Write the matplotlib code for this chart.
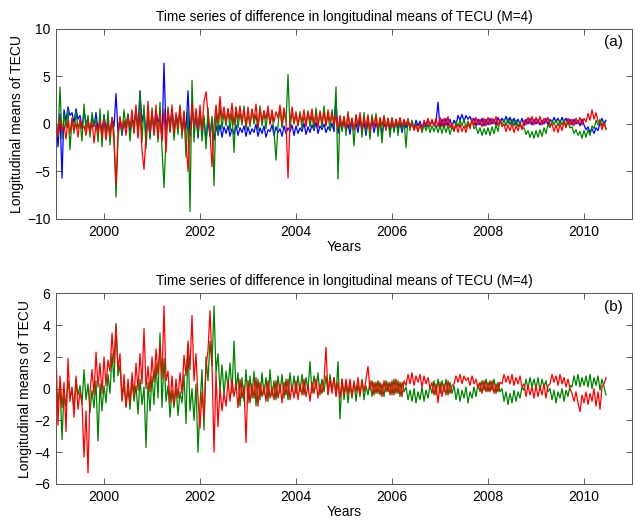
import numpy as np
import matplotlib
matplotlib.use("Agg")
import matplotlib.pyplot as plt

# half-monthly samples starting Jan 1999 (24 per year)
start_year = 1999.0
steps_per_year = 24

# panel (a): blue, green, red difference series
a_blue = [
    0.6, -2.4, 1.1, -5.7, 1.5, 0.3, 1.8, 0.9, 1.2, 0.1, 1.6, 0.5, 0.9, -0.4, 1.3, 0.2, 0.4, -0.9, 0.8, -0.3, 1.2, -0.6, 0.3, -0.8,
    0.9, -0.5, 0.2, -1.1, 0.7, -0.3, 3.2, -0.9, 0.5, -1.2, 0.3, -0.4, 1.0, -0.8, 0.6, 0.0, 1.5, -0.6, 3.5, 0.2, 1.3, -1.2, 0.8, -1.4,
    1.1, -0.6, 1.4, 0.2, 0.7, -1.6, 6.4, -0.9, 1.2, -0.2, 1.5, -0.7, 0.9, 0.1, 1.3, -1.1, 0.6, -0.5, 3.5, -1.3, 1.6, -0.4, 1.0, -1.5,
    1.2, -0.8, 0.6, -1.9, 0.4, -1.3, 0.5, -1.7, -0.2, -1.2, -0.1, -1.4, -0.3, -1.0, -0.2, -1.3, -0.5, -1.1, -0.1, -1.2, -0.4, -0.9, -0.2, -1.3,
    -0.3, -1.1, -0.5, -0.9, 0.0, -1.3, -0.4, -1.0, -0.2, -1.4, -0.6, -0.8, -0.1, -1.2, -0.3, -0.9, -0.5, -1.3, -0.2, -1.0, -0.4, -0.8, -0.1, -1.2,
    -0.2, -1.0, -0.4, -0.8, 0.1, -1.1, -0.3, -0.9, -0.1, -0.7, 0.2, -1.0, -0.2, -0.6, 0.0, -0.9, -0.3, -0.7, 0.1, -0.8, 2.5, -1.0, 0.2, -0.6,
    0.3, -0.7, 0.0, -1.1, 0.4, -0.5, 0.1, -0.9, 0.5, -0.6, 0.2, -1.2, 0.3, -0.4, 0.4, -0.9, 0.1, -0.6, 0.3, -1.0, 0.0, -0.5, 0.4, -0.8,
    0.2, -0.7, 0.3, -0.5, 0.1, -0.9, 0.2, -0.4, 0.4, -0.3, 0.2, -0.5, 0.4, -0.2, 0.3, -0.4, 0.2, -0.3, 0.4, -0.1, 0.3, -0.2, 0.2, 2.3,
    -0.4, 0.5, -0.3, 0.6, -0.2, 0.5, -0.3, 0.4, -0.1, 0.9, 0.4, 1.0, 0.3, 0.9, 0.5, 0.8, 0.2, 0.6, -0.2, 0.5, -0.1, 0.6, -0.2, 0.5,
    -0.1, 0.6, 0.0, 0.5, -0.1, 0.7, 0.1, 0.6, 0.2, 0.8, 0.1, 0.7, 0.0, 0.6, -0.1, 0.5, 0.0, 0.6, -0.2, 0.5, 0.0, 0.6, -0.1, 0.5,
    0.0, 0.5, -0.1, 0.4, 0.0, 0.6, -0.1, 0.5, 0.1, 0.7, 0.2, 0.6, 0.1, 0.7, 0.2, 0.6, 0.0, 0.5, -0.1, 0.5, 0.0, 0.4, -0.2, 0.5,
    -0.1, -0.6, -0.3, -0.9, -0.5, -1.0, -0.4, -0.7, 0.1, 0.6, -0.1, 0.4,
]
a_green = [
    0.2, -1.3, 3.9, -1.6, 1.1, -0.4, 1.5, -2.7, 0.6, -1.0, 1.3, -0.5, 0.3, -1.8, 2.1, -0.7, 0.9, -1.4, 1.2, -0.2, 0.5, -1.9, 1.6, -2.4,
    1.0, -1.5, 1.4, -2.2, 0.6, -0.8, -7.7, -1.7, 0.8, -1.1, 1.5, -0.4, 1.1, -1.8, 0.7, -0.9, 1.7, -1.3, 3.4, -1.9, 2.0, -2.6, 1.2, -1.6,
    1.7, -1.2, 1.0, -1.9, 2.3, -2.6, -6.7, -1.4, 1.8, -0.9, 1.3, -1.7, 0.9, -1.1, 2.0, -1.5, 1.2, -3.5, 1.6, -9.2, 4.6, -1.9, 1.5, -1.3,
    1.4, -1.8, 0.9, -2.6, 1.7, -1.3, 0.8, -6.5, 1.5, -1.1, 1.9, -0.5, 1.2, -0.2, 1.6, -0.7, 1.3, -3.0, 1.8, -0.4, 1.2, -0.1, 1.9, -0.6,
    1.2, -0.3, 1.6, 0.0, 1.0, -0.7, 1.9, -0.2, 1.3, -0.5, 1.5, 0.1, 1.1, -0.8, -3.8, -0.1, 1.7, -0.4, 1.2, 0.2, 5.2, -0.6, 1.4, 0.0,
    1.0, -0.2, 1.3, -0.5, 0.8, 0.1, 1.4, -0.3, 1.0, -0.6, 1.7, -0.1, 1.2, -0.4, 1.9, -0.2, 1.1, -0.7, 1.5, -0.3, 3.9, -5.8, 0.9, -0.8,
    0.8, -1.2, 1.3, -0.6, 0.6, -2.3, 1.0, -0.4, 0.9, -1.4, 1.2, -0.9, 0.7, -1.6, 1.0, -0.3, 1.1, -1.3, 0.5, -2.0, 0.9, -0.7, 0.6, -1.4,
    0.7, -0.9, 0.5, -1.2, 0.6, -0.6, 0.4, -2.5, 0.6, -0.7, 0.4, -0.5, 0.1, -0.8, 0.0, -0.9, -0.1, -0.7, 0.0, -0.9, -0.2, -0.8, -0.1, -0.9,
    -0.2, -1.0, -0.1, -0.9, -0.2, -1.1, -0.3, -0.8, 0.3, -0.3, 0.4, -0.2, 0.5, -0.4, 0.3, -0.3, 0.4, -0.5, -0.3, -1.0, -0.4, -1.2, -0.5, -1.1,
    -0.4, -1.2, -0.3, -1.0, -0.1, -0.8, 0.4, -0.1, 0.5, -0.2, 0.6, -0.1, 0.5, -0.2, 0.4, -0.3, 0.2, -0.5, -0.4, -1.1, -0.7, -1.4, -0.8, -1.5,
    -0.7, -1.4, -0.6, -1.3, -0.4, -1.0, 0.0, -0.4, 0.4, -0.1, 0.5, -0.2, 0.4, -0.1, 0.5, -0.3, 0.2, -0.4, -0.3, -1.0, -0.6, -1.2, -0.8, -1.5,
    -0.7, -1.4, -0.6, -1.2, -0.2, -0.5, 0.4, -0.1, 0.5, -0.2, 0.3, -0.6,
]
a_red = [
    0.3, -1.3, 0.5, -0.8, -0.1, -1.6, 0.4, -1.0, 0.6, -0.7, 0.1, -1.4, 0.5, -0.5, -0.2, -1.2, 0.4, -0.9, 0.2, -2.0, 0.0, -1.0, 0.3, -1.4,
    0.5, -1.7, 0.1, -1.3, 0.6, -2.0, -6.4, -0.9, 0.7, -0.6, 0.3, -1.2, 0.8, -0.4, 1.5, -1.0, 2.0, -1.5, 1.2, -2.8, -4.8, -1.3, 2.4, -0.9,
    1.4, -1.1, 2.0, -1.5, 1.0, -1.8, 1.6, -3.0, 1.5, -0.8, 2.0, -1.0, 1.2, -0.4, 1.8, -0.9, 1.4, -1.6, -5.0, -1.2, 2.2, -0.3, 1.6, -0.5,
    2.0, -0.7, 2.4, 3.4, 1.1, -1.0, -4.5, -0.2, 2.0, 0.1, 2.9, 0.5, 1.8, 0.2, 1.6, 0.4, 2.2, -0.1, 1.7, 0.5, 1.9, 0.2, 1.5, -0.2,
    1.8, 0.0, 1.5, 0.4, 2.1, -0.3, 1.6, 0.3, 1.4, 0.5, 1.9, -0.1, 1.5, 0.2, 1.3, 0.6, 2.0, 0.0, 1.7, 0.3, -5.7, 0.2, 1.8, 0.1,
    1.3, -0.2, 1.1, 0.2, 1.5, -0.3, 1.2, 0.3, 1.6, 0.0, 1.0, -0.4, 1.4, 0.1, 1.2, -0.2, 1.5, 0.2, 1.1, -0.1, 0.9, -0.5, 0.8, -0.3,
    0.8, -0.5, 1.1, -0.3, 0.6, -0.7, 0.9, -0.2, 1.2, -0.6, 0.7, -0.4, 1.0, -0.8, 0.5, -0.3, 0.9, -0.5, 0.7, -0.2, 0.8, -0.6, 0.6, -0.4,
    0.6, -0.4, 0.5, -0.2, 0.7, -0.3, 0.5, -0.1, 0.5, -0.4, 0.1, -0.7, -0.1, -0.8, 0.0, -0.6, 0.4, -0.1, 0.6, -0.3, 0.5, -0.2, 0.6, -0.3,
    0.7, -0.3, 0.6, -0.2, 0.8, -0.4, 0.1, -0.7, -0.1, -0.9, 0.0, -0.8, -0.2, -0.9, 0.1, -0.5, 0.6, -0.2, 0.7, -0.1, 0.5, -0.3, 0.6, -0.2,
    0.7, -0.1, 0.6, 0.0, 0.8, -0.2, 0.5, -0.3, 0.0, -0.8, -0.1, -0.7, 0.0, -0.9, -0.2, -0.7, 0.0, -0.6, 0.4, -0.1, 0.7, 0.0, 0.8, -0.1,
    0.7, 0.0, 0.8, -0.1, 0.6, 0.1, 0.7, -0.2, 0.0, -0.8, -0.1, -0.9, 0.0, -0.7, 0.2, -0.4, 0.6, -0.1, 0.5, -0.2, 0.6, 0.0, 0.7, -0.1,
    0.6, 0.2, 1.1, 0.4, 1.5, 0.5, 1.2, 0.3, 0.2, -0.6, 0.1, -0.5,
]

# panel (b): green and red difference series
b_green = [
    0.1, -0.9, 0.4, -3.2, -0.2, -1.1, 0.5, -0.6, 0.0, -1.3, 0.6, -0.4, 0.2, -1.0, 1.2, -0.7, 0.3, -1.5, -0.1, -1.2, 0.5, -3.3, 0.3, -1.4,
    0.2, -0.9, 0.9, -0.3, 2.2, 0.4, 4.1, 0.8, 1.5, -0.7, 0.3, -1.1, 0.0, -1.3, 0.5, -0.8, 0.2, -1.6, 0.6, -1.0, 0.1, -3.7, 0.4, -1.4,
    0.8, -1.0, 1.6, -0.6, 3.5, -1.2, 1.9, -0.8, 0.2, -1.8, -0.1, -1.2, 0.1, -1.7, -0.2, -0.9, 0.9, -2.2, 2.8, -1.4, 0.0, -2.0, 0.3, -4.0,
    -1.0, 1.2, -2.6, 2.0, 0.5, 3.0, 1.4, 5.2, 1.0, 2.2, -0.2, 1.5, -0.4, 1.1, 0.1, 1.6, -0.3, 3.0, -0.1, 1.0, -1.1, 0.7, -0.8, 1.2,
    -0.9, 0.8, -0.6, 1.1, -1.1, 0.6, -0.7, 1.0, -0.4, 0.7, -0.8, 1.2, -0.5, 0.5, -0.7, 0.8, -0.3, 0.9, -0.6, 0.6, -0.7, 1.0, -0.2, 0.8,
    -0.3, 0.8, -0.2, 0.9, -0.4, 0.7, -0.1, 1.7, -0.3, 0.8, 0.0, 1.0, -0.4, 0.6, -0.2, 0.8, -0.3, 0.9, -0.1, 0.7, -0.4, 1.7, -1.9, 0.6,
    -0.7, 0.4, -0.9, 0.3, -0.6, 0.5, -0.8, 0.3, -0.5, 0.6, -0.7, 0.2, -0.4, 0.5, -0.5, 0.4, -0.3, 0.5, -0.4, 0.3, -0.5, 0.5, -0.2, 0.4,
    -0.4, 0.6, -0.3, 0.5, -0.5, 0.4, -0.2, 0.1, -0.7, -0.1, -0.8, 0.0, -0.9, -0.2, -0.7, 0.1, -0.8, -0.1, -0.6, 0.2, -0.3, 0.5, -0.4, 0.6,
    -0.3, 0.5, -0.2, 0.6, -0.4, 0.4, -0.3, 0.2, -0.7, 0.0, -0.8, -0.1, -0.6, 0.1, -0.9, -0.2, -0.6, 0.1, -0.5, 0.3, -0.2, 0.5, -0.1, 0.6,
    -0.2, 0.5, -0.1, 0.6, -0.3, 0.4, -0.2, 0.0, -0.8, -0.2, -1.0, -0.3, -0.9, -0.1, -0.8, -0.2, -0.6, 0.1, -0.1, 0.6, 0.0, 0.7, 0.1, 0.6,
    0.0, 0.7, -0.1, 0.6, 0.1, 0.5, -0.2, 0.0, -0.7, -0.1, -0.9, -0.2, -0.6, 0.0, -0.8, -0.1, -0.5, 0.2, 0.1, 0.8, 0.2, 0.9, 0.1, 0.7,
    0.2, 0.8, 0.1, 0.9, 0.0, 0.7, 0.2, 0.8, -0.1, 0.6, 0.1, -0.4,
]
b_red = [
    2.4, -2.3, 0.8, -1.2, 0.4, -2.7, 1.9, -0.8, 0.1, -1.8, 0.8, -1.3, -0.2, -0.9, -4.3, -1.4, -5.3, -0.2, 1.2, -0.4, 2.3, 0.1, 1.6, -0.3,
    2.0, 0.2, 1.8, 1.1, 3.5, 1.6, 4.0, 1.2, 2.2, -0.8, 0.9, -1.2, 0.6, -0.9, 1.0, -0.5, 1.6, -0.1, 2.2, 0.3, 3.8, 0.0, 1.4, -0.2,
    2.0, 0.4, 2.5, 0.9, 2.8, 0.6, 5.2, 0.5, 1.1, -0.9, 0.8, -1.0, 0.6, -0.6, 1.0, -0.3, 2.1, 0.8, 3.0, 1.2, 4.6, 0.5, 2.2, -0.6,
    -2.5, -0.2, -1.8, 1.4, 2.4, 4.9, 1.6, -4.0, 1.0, -2.4, 0.0, -1.4, -0.3, -1.1, 0.5, -0.8, 0.6, -0.5, 0.3, -1.2, 0.6, -0.6, 0.2, -3.4,
    0.5, -0.9, 0.3, -0.6, 0.7, -1.1, 0.4, -0.5, 0.2, -0.8, 0.5, -0.6, 0.1, -0.7, 0.5, -0.6, 0.3, -0.9, 0.4, -0.4, 0.6, -0.7, 0.2, -0.6,
    0.5, -0.7, 0.3, -0.4, 0.6, -0.5, 0.2, -0.8, 0.4, -0.3, 0.6, -0.6, 0.3, -0.3, 0.5, 2.6, -0.4, 0.6, -0.3, 0.7, -0.5, 0.4, -0.6, 0.6,
    -0.4, 0.6, -0.3, 0.6, -0.5, 0.4, -0.2, 0.7, -0.4, 0.5, -0.2, 0.6, 1.4, -0.1, 0.5, -0.4, 0.4, -0.3, 0.4, -0.5, 0.5, -0.2, 0.4, -0.4,
    0.5, -0.4, 0.6, -0.3, 0.4, -0.5, 0.5, 0.2, 0.9, 0.3, 1.0, 0.2, 0.8, 0.4, 0.9, 0.1, 0.8, 0.3, 0.7, 0.0, 0.4, -0.4, 0.3, -0.9,
    0.4, -0.5, 0.3, -0.4, 0.5, -0.3, 0.2, 0.3, 0.8, 0.4, 0.9, 0.3, 0.8, 0.5, 0.7, 0.2, 0.8, 0.3, 0.6, 0.0, 0.4, -0.3, 0.5, -0.2,
    0.4, -0.2, 0.5, -0.3, 0.3, -0.2, 0.4, 0.3, 0.9, 0.4, 0.8, 0.3, 0.9, 0.2, 0.7, 0.3, 0.8, 0.1, 0.3, -0.5, 0.2, -0.4, 0.1, -0.6,
    0.2, -0.5, 0.1, -0.4, 0.3, -0.6, 0.2, 0.3, 0.9, 0.4, 0.8, 0.2, 0.9, 0.3, 0.7, 0.1, 0.6, 0.0, -0.3, -0.8, -0.2, -0.9, -1.45, -0.4,
    -0.9, -0.2, -1.0, -0.3, -0.8, 0.0, -1.1, -0.2, -1.3, 0.1, 0.3, 0.7,
]

year_ticks = [2000, 2002, 2004, 2006, 2008, 2010]
a_yticks = [-10, -5, 0, 5, 10]
b_yticks = [-6, -4, -2, 0, 2, 4, 6]
title = "Time series of difference in longitudinal means of TECU (M=4)"

t = start_year + np.arange(len(a_blue)) / steps_per_year

plt.rcParams["font.family"] = ["Liberation Sans", "DejaVu Sans"]
plt.rcParams["font.size"] = 10

fig = plt.figure(figsize=(6.35, 5.23), dpi=100)
ax1 = fig.add_axes([0.0882, 0.5813, 0.9071, 0.3633])
ax2 = fig.add_axes([0.0882, 0.0746, 0.9071, 0.3646])

lw = 0.9
ax1.plot(t, a_blue, color="#0000ff", lw=lw)
ax1.plot(t, a_green, color="#008000", lw=lw)
ax1.plot(t, a_red, color="#ff0000", lw=lw)
ax2.plot(t, b_green, color="#008000", lw=lw)
ax2.plot(t, b_red, color="#ff0000", lw=lw)

for ax, yt, tag in [(ax1, a_yticks, "(a)"), (ax2, b_yticks, "(b)")]:
    ax.set_xlim(1999, 2011)
    ax.set_ylim(yt[0], yt[-1])
    ax.set_xticks(year_ticks)
    ax.set_yticks(yt)
    ax.tick_params(direction="in", top=True, right=True, length=4,
                   width=0.6, color="#444444", labelsize=10, pad=4)
    for s in ax.spines.values():
        s.set_color("#555555")
        s.set_linewidth(0.7)
    ax.set_title(title, fontsize=9.8, pad=6)
    ax.set_xlabel("Years", fontsize=10, labelpad=1)
    ax.set_ylabel("Longitudinal means of TECU", fontsize=10, labelpad=2)
    ax.text(0.968, 0.93, tag, transform=ax.transAxes, ha="center",
            va="center", fontsize=11)

fig.savefig("out.png", dpi=100)
